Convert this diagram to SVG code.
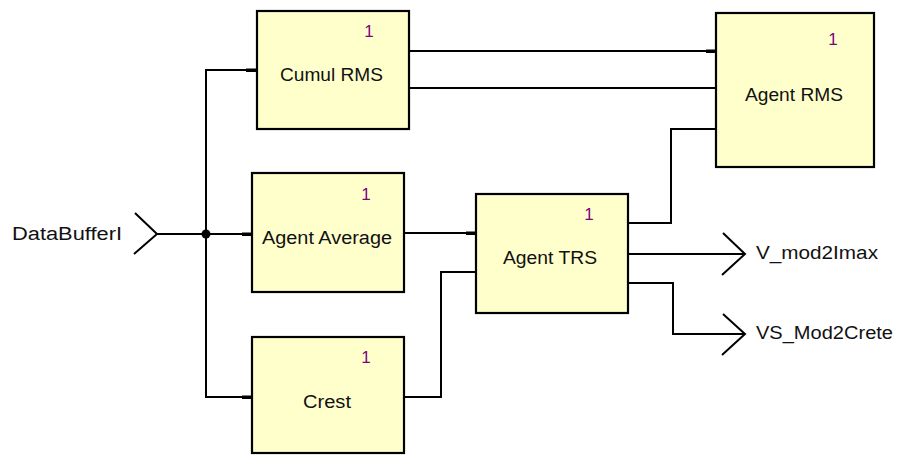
<svg xmlns="http://www.w3.org/2000/svg" width="897" height="456" viewBox="0 0 897 456">
<style>
.box{fill:#ffffcc;stroke:#000;stroke-width:2.2}
.lbl{font-family:"Liberation Sans",Arial,sans-serif;font-size:18px;fill:#111}
.num{font-family:"Liberation Sans",Arial,sans-serif;font-size:17px;fill:#800080;text-anchor:middle}
.w{fill:none;stroke:#000;stroke-width:2}
.stub{fill:#000}
</style>
<rect width="897" height="456" fill="#fff"/>
<g id="connectors">
<polyline class="w" points="135,213 157,234 134,254"/>
<text class="lbl" x="12" y="240" textLength="110" lengthAdjust="spacingAndGlyphs">DataBufferI</text>
<line class="w" x1="157" y1="234" x2="252" y2="234"/>
<polyline class="w" points="257,70 206,70 206,397 252,397"/>
<circle cx="206" cy="234" r="4.5" fill="#000"/>
<rect class="stub" x="246" y="68.5" width="10" height="3.5"/>
<rect class="stub" x="242" y="232.5" width="10" height="3.5"/>
<rect class="stub" x="242" y="395.5" width="10" height="3.5"/>
<line class="w" x1="409" y1="51" x2="716" y2="51"/>
<line class="w" x1="409" y1="88" x2="716" y2="88"/>
<rect class="stub" x="706" y="49.5" width="10" height="3.5"/>
<line class="w" x1="404" y1="233" x2="476" y2="233"/>
<rect class="stub" x="466" y="231.5" width="10" height="3.5"/>
<polyline class="w" points="404,397 441,397 441,272 476,272"/>
<polyline class="w" points="628,223 671,223 671,129 716,129"/>
<line class="w" x1="628" y1="254" x2="745" y2="254"/>
<polyline class="w" points="723,233 745,254 722,275"/>
<text class="lbl" x="756" y="259" textLength="122" lengthAdjust="spacingAndGlyphs">V_mod2Imax</text>
<polyline class="w" points="628,283 673,283 673,334 745,334"/>
<polyline class="w" points="723,314 745,334 722,355"/>
<text class="lbl" x="756" y="339" textLength="137" lengthAdjust="spacingAndGlyphs">VS_Mod2Crete</text>
</g>
<g id="CumulRMS">
<rect class="box" x="257" y="11" width="152" height="118"/>
<text class="num" x="369" y="37">1</text>
<text class="lbl" x="280" y="81" textLength="103" lengthAdjust="spacingAndGlyphs">Cumul RMS</text>
</g>
<g id="AgentAverage">
<rect class="box" x="252" y="173" width="152" height="119"/>
<text class="num" x="366" y="200">1</text>
<text class="lbl" x="262" y="244" textLength="130" lengthAdjust="spacingAndGlyphs">Agent Average</text>
</g>
<g id="Crest">
<rect class="box" x="252" y="337" width="152" height="116"/>
<text class="num" x="366" y="363">1</text>
<text class="lbl" x="303" y="408" textLength="48" lengthAdjust="spacingAndGlyphs">Crest</text>
</g>
<g id="AgentTRS">
<rect class="box" x="476" y="194" width="152" height="119"/>
<text class="num" x="589" y="220">1</text>
<text class="lbl" x="503" y="264" textLength="94" lengthAdjust="spacingAndGlyphs">Agent TRS</text>
</g>
<g id="AgentRMS">
<rect class="box" x="716" y="13" width="158" height="154"/>
<text class="num" x="833" y="45">1</text>
<text class="lbl" x="745" y="101" textLength="98" lengthAdjust="spacingAndGlyphs">Agent RMS</text>
</g>
</svg>
